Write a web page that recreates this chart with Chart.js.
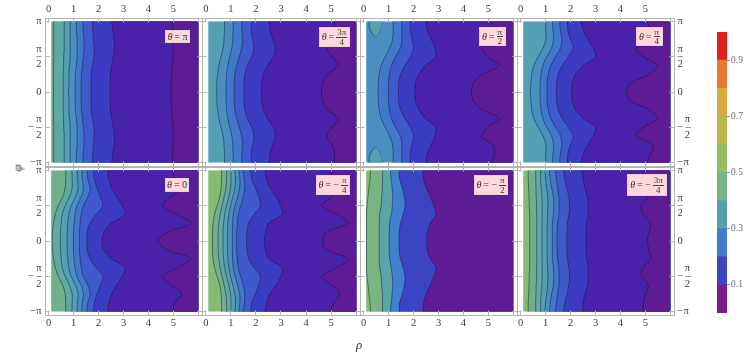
<!DOCTYPE html>
<html>
<head>
<meta charset="utf-8">
<script src="https://cdn.jsdelivr.net/npm/chart.js@4/dist/chart.umd.min.js"></script>
<style>
  html, body { margin: 0; padding: 0; background: #fff; }
  body { width: 747px; height: 355px; position: relative; overflow: hidden; font-family: "Liberation Serif", serif; }
  canvas { position: absolute; }
  .theta { position: absolute; background: #ffd9da; box-shadow: inset 0 0 0 1px #e6cfd8; display: flex; align-items: center; justify-content: center;
    font-size: 10px; color: #333; white-space: nowrap; line-height: 1; z-index: 5; }
  .theta i { margin-right: 2px; }
  .frac { display: inline-flex; flex-direction: column; align-items: center; margin-left: 2px; font-size: 9px; }
  .frac span { line-height: 8.5px; }
  .frac span:first-child { border-bottom: 1px solid #444; padding: 0 1px; }
  .axis-title { position: absolute; font-style: italic; font-size: 13px; color: #333; z-index: 5; }
</style>
</head>
<body>
<span class="axis-title" style="left:356px;top:337px">ρ</span>
<span class="axis-title" style="left:14px;top:160px;transform:rotate(-90deg)">φ</span>
<script>
// phi samples shared by every contour, top of the panel first
const phiGrid = [3.1416, 2.7489, 2.3562, 1.9635, 1.5708, 1.1781, 0.7854, 0.3927, 0, -0.3927, -0.7854, -1.1781, -1.5708, -1.9635, -2.3562, -2.7489, -3.1416];

// contour positions (rho at each phiGrid value), left to right in each panel
const contoursPi = [
  [.20,.20,.20,.20,.20,.19,.19,.19,.19,.19,.19,.19,.20,.20,.20,.20,.20],
  [.62,.62,.62,.62,.60,.59,.58,.58,.58,.58,.58,.59,.60,.62,.62,.62,.62],
  [.86,.86,.86,.86,.86,.83,.81,.81,.79,.81,.81,.83,.86,.86,.86,.86,.86],
  [1.10,1.11,1.14,1.14,1.14,1.11,1.07,1.06,1.06,1.06,1.07,1.11,1.14,1.14,1.14,1.11,1.10],
  [1.38,1.38,1.41,1.42,1.39,1.35,1.31,1.30,1.30,1.30,1.31,1.35,1.39,1.42,1.41,1.38,1.38],
  [1.74,1.77,1.79,1.82,1.81,1.75,1.71,1.70,1.70,1.70,1.71,1.75,1.81,1.82,1.79,1.77,1.74],
  [2.53,2.57,2.62,2.63,2.59,2.53,2.47,2.46,2.46,2.46,2.47,2.53,2.59,2.63,2.62,2.57,2.53],
  [4.97,4.97,4.98,5.00,4.98,4.96,4.93,4.92,4.92,4.92,4.93,4.96,4.98,5.00,4.98,4.97,4.97]
];
const contours3Pi4 = [
  [.75,.75,.73,.69,.61,.52,.47,.44,.44,.44,.47,.52,.61,.69,.73,.75,.75],
  [1.09,1.09,1.08,1.04,.96,.88,.83,.81,.81,.81,.83,.88,.96,1.04,1.08,1.09,1.09],
  [1.43,1.44,1.46,1.43,1.34,1.23,1.16,1.13,1.13,1.13,1.16,1.23,1.34,1.43,1.46,1.44,1.43],
  [1.82,1.82,1.87,1.92,1.83,1.66,1.56,1.52,1.52,1.52,1.56,1.66,1.83,1.92,1.87,1.82,1.82],
  [2.54,2.56,2.67,2.76,2.70,2.46,2.30,2.23,2.22,2.23,2.30,2.46,2.70,2.76,2.67,2.56,2.54],
  [5.13,5.13,5.03,4.83,5.03,5.27,4.86,4.65,4.62,4.65,4.86,5.27,5.03,4.83,5.03,5.13,5.13]
];
const contoursPi2 = [
  [1.18,1.18,1.16,1.04,.86,.70,.62,.58,.58,.58,.62,.70,.86,1.04,1.16,1.18,1.18],
  [1.52,1.53,1.53,1.47,1.28,1.11,1.03,.99,.99,.99,1.03,1.11,1.28,1.47,1.53,1.53,1.52],
  [1.85,1.88,1.93,2.00,1.87,1.66,1.48,1.40,1.39,1.40,1.48,1.66,1.87,2.00,1.93,1.88,1.85],
  [2.49,2.54,2.70,2.85,2.88,2.48,2.21,2.08,2.05,2.08,2.21,2.48,2.88,2.85,2.70,2.54,2.49],
  [5.13,5.25,5.19,4.73,4.97,5.43,4.77,4.39,4.33,4.39,4.77,5.43,4.97,4.73,5.19,5.25,5.13]
];
const contoursPi4 = [
  [1.00,1.00,1.01,.90,.70,.53,.44,.41,.39,.41,.44,.53,.70,.90,1.01,1.00,1.00],
  [1.28,1.29,1.32,1.24,1.04,.89,.81,.78,.77,.78,.81,.89,1.04,1.24,1.32,1.29,1.28],
  [1.56,1.59,1.65,1.60,1.40,1.21,1.10,1.06,1.06,1.06,1.10,1.21,1.40,1.60,1.65,1.59,1.56],
  [1.87,1.89,1.99,2.11,1.91,1.67,1.51,1.44,1.43,1.44,1.51,1.67,1.91,2.11,1.99,1.89,1.87],
  [2.43,2.50,2.68,2.90,3.00,2.50,2.20,2.07,2.04,2.07,2.20,2.50,3.00,2.90,2.68,2.50,2.43],
  [5.08,5.21,5.31,4.64,4.91,5.48,5.15,4.41,4.25,4.41,5.15,5.48,4.91,4.64,5.31,5.21,5.08]
];
const contoursZero = [
  [.68,.68,.66,.56,.38,.26,.19,.15,.14,.15,.19,.26,.38,.56,.66,.68,.68],
  [.93,.94,.94,.83,.66,.54,.50,.47,.47,.47,.50,.54,.66,.83,.94,.94,.93],
  [1.14,1.15,1.18,1.07,.90,.80,.76,.74,.74,.74,.76,.80,.90,1.07,1.18,1.15,1.14],
  [1.33,1.34,1.39,1.30,1.13,1.05,1.01,.99,.99,.99,1.01,1.05,1.13,1.30,1.39,1.34,1.33],
  [1.53,1.57,1.66,1.57,1.39,1.30,1.26,1.23,1.23,1.23,1.26,1.30,1.39,1.57,1.66,1.57,1.53],
  [1.79,1.83,1.94,2.07,2.17,1.90,1.66,1.54,1.53,1.54,1.66,1.90,2.17,2.07,1.94,1.83,1.79],
  [2.37,2.41,2.53,2.73,2.94,3.06,2.50,2.21,2.14,2.21,2.50,3.06,2.94,2.73,2.53,2.41,2.37],
  [4.98,5.06,5.34,4.90,4.57,5.17,5.70,4.77,4.38,4.77,5.70,5.17,4.57,4.90,5.34,5.06,4.98]
];
const contoursMinusPi4 = [
  [.63,.63,.61,.56,.45,.35,.29,.27,.27,.27,.29,.35,.45,.56,.61,.63,.63],
  [.83,.83,.80,.73,.65,.57,.52,.49,.49,.49,.52,.57,.65,.73,.80,.83,.83],
  [1.00,1.01,.99,.92,.83,.75,.71,.69,.69,.69,.71,.75,.83,.92,.99,1.01,1.00],
  [1.16,1.19,1.16,1.08,.99,.92,.88,.87,.87,.87,.88,.92,.99,1.08,1.16,1.19,1.16],
  [1.32,1.36,1.35,1.27,1.17,1.09,1.07,1.06,1.06,1.06,1.07,1.09,1.17,1.27,1.35,1.36,1.32],
  [1.48,1.54,1.56,1.50,1.39,1.30,1.26,1.23,1.23,1.23,1.26,1.30,1.39,1.50,1.56,1.54,1.48],
  [1.79,1.84,1.98,2.11,2.18,1.92,1.71,1.64,1.63,1.64,1.71,1.92,2.18,2.11,1.98,1.84,1.79],
  [2.36,2.42,2.56,2.80,2.99,3.03,2.50,2.38,2.34,2.38,2.50,3.03,2.99,2.80,2.56,2.42,2.36],
  [4.97,5.10,5.33,5.03,4.62,5.23,5.66,4.81,4.67,4.81,5.66,5.23,4.62,5.03,5.33,5.10,4.97]
];
const contoursMinusPi2 = [
  [.27,.25,.21,.17,.13,.11,.11,.11,.11,.11,.11,.11,.13,.17,.21,.25,.27],
  [.75,.75,.75,.72,.70,.64,.62,.62,.62,.62,.62,.64,.70,.72,.75,.75,.75],
  [1.07,1.10,1.14,1.16,1.15,1.10,1.04,1.02,1.02,1.02,1.04,1.10,1.15,1.16,1.14,1.10,1.07],
  [1.42,1.44,1.55,1.63,1.66,1.58,1.47,1.42,1.42,1.42,1.47,1.58,1.66,1.63,1.55,1.44,1.42],
  [2.37,2.40,2.51,2.67,2.81,2.90,2.67,2.55,2.53,2.55,2.67,2.90,2.81,2.67,2.51,2.40,2.37]
];
const contoursMinus3Pi4 = [
  [.30,.30,.32,.33,.34,.36,.36,.36,.36,.36,.36,.36,.34,.33,.32,.30,.30],
  [.60,.60,.61,.62,.64,.64,.64,.64,.64,.64,.64,.64,.64,.62,.61,.60,.60],
  [.80,.80,.82,.85,.86,.86,.85,.85,.85,.85,.85,.86,.86,.85,.82,.80,.80],
  [.97,1.00,1.04,1.08,1.09,1.08,1.06,1.06,1.06,1.06,1.06,1.08,1.09,1.08,1.04,1.00,.97],
  [1.16,1.18,1.24,1.31,1.32,1.31,1.27,1.27,1.27,1.27,1.27,1.31,1.32,1.31,1.24,1.18,1.16],
  [1.39,1.43,1.48,1.53,1.54,1.53,1.48,1.46,1.46,1.46,1.48,1.53,1.54,1.53,1.48,1.43,1.39],
  [1.72,1.77,1.85,1.93,1.96,1.93,1.87,1.85,1.85,1.85,1.87,1.93,1.96,1.93,1.85,1.77,1.72],
  [2.47,2.50,2.58,2.67,2.71,2.71,2.64,2.62,2.62,2.62,2.64,2.71,2.71,2.67,2.58,2.50,2.47],
  [4.91,4.92,5.01,5.12,4.85,4.91,5.21,5.15,5.08,5.15,5.21,4.91,4.85,5.12,5.01,4.92,4.91]
];

// the two small closed contours in the corners of the theta = pi/2 panel
const loopPhiTop = [3.1416, 2.95, 2.75, 2.57, 2.46];
const loopPhiBottom = [-2.46, -2.57, -2.75, -2.95, -3.1416];
const loopLeftTop = [.22,.22,.27,.36,.45];
const loopRightTop = [.73,.72,.66,.58,.47];
const loopLeftBottom = [.45,.36,.27,.22,.22];
const loopRightBottom = [.47,.58,.66,.72,.73];

// band colours, lowest band first
const bandColors = ['#5e1b96', '#4a21a9', '#3b3cc1', '#3f5bcb', '#4178c9', '#4b8fc0', '#559fb4', '#60a8a0', '#70b08c', '#85bb72'];
const minusPi2Colors = ['#5e1b96', '#3b45c4', '#4080d0', '#5aa5a8', '#79b583', '#85bb72'];

const panels = [
  { contours: contoursPi, colors: bandColors, box: [165, 30, 25, 13], label: '=&nbsp;π' },
  { contours: contours3Pi4, colors: bandColors, box: [319, 27, 31, 20], label: '=', num: '3π', den: '4' },
  { contours: contoursPi2, colors: bandColors, box: [479, 27, 27, 19], label: '=', num: 'π', den: '2' },
  { contours: contoursPi4, colors: bandColors, box: [636, 27, 27, 19], label: '=', num: 'π', den: '4' },
  { contours: contoursZero, colors: bandColors, box: [165, 178, 24, 14], label: '=&nbsp;0' },
  { contours: contoursMinusPi4, colors: bandColors, box: [316, 175, 34, 20], label: '=&nbsp;−', num: 'π', den: '4' },
  { contours: contoursMinusPi2, colors: minusPi2Colors, box: [474, 175, 34, 20], label: '=&nbsp;−', num: 'π', den: '2' },
  { contours: contoursMinus3Pi4, colors: bandColors, box: [627, 174, 40, 22], label: '=&nbsp;−', num: '3π', den: '4' }
];

const rhoTicks = [0, 1, 2, 3, 4, 5, 6];
const rhoTickLabels = ['0', '1', '2', '3', '4', '5', ''];
const phiTicks = [3.1416, 1.5708, 0, -1.5708, -3.1416];
const phiLeftLabels = ['π', ['π', '–', '2'], '0', ['π', '−\u2009–', '2'], '−π'];
const phiRightLabels = ['π', ['π', '–', '2'], '0', ['\u2002\u2009π', '−\u2009–', '\u2002\u20092'], '−π'];

const barSegment = [0.1];
const barColors = ['#7b1c88', '#3c46c3', '#437bcd', '#579fae', '#77b586', '#98bb63', '#bcb648', '#dca83b', '#e67a33', '#dd2223'];
const barTicks = [0.1, 0.3, 0.5, 0.7, 0.9];

const frameX = [45, 202, 360, 517, 674];
const frameY = [[18, 166], [167, 315]];
const gutter = 6;
const frameColor = '#b4b4b4';
const tickFont = { family: '"Liberation Serif", serif', size: 10.5, lineHeight: 0.74 };

// inward tick marks on every side, labels only on the outer sides
function frameAxis(position, size, min, max, ticks, labels, showLabels, pad) {
  return {
    type: 'linear',
    position: position,
    min: min,
    max: max,
    grid: { drawOnChartArea: false, tickLength: -4.5, color: frameColor, z: 1 },
    border: { color: frameColor, z: 1 },
    ticks: {
      display: showLabels,
      autoSkip: false,
      maxRotation: 0,
      minRotation: 0,
      padding: pad,
      color: '#3a3a3a',
      font: tickFont,
      callback: (value, i) => labels[i]
    },
    afterBuildTicks: scale => { scale.ticks = ticks.map(v => ({ value: v })); },
    afterFit: scale => {
      if (position === 'left' || position === 'right') scale.width = size;
      else scale.height = size;
      scale.paddingLeft = scale.paddingRight = scale.paddingTop = scale.paddingBottom = 0;
    }
  };
}

function contourDataset(xs, phis, fill, lineWidth, color) {
  return {
    data: xs.map((x, i) => ({ x: x, y: phis[i] })),
    xAxisID: 'x',
    yAxisID: 'y',
    backgroundColor: color,
    borderColor: 'rgba(20,20,60,0.62)',
    borderWidth: lineWidth,
    pointRadius: 0,
    tension: 0.35,
    fill: fill
  };
}

function buildDatasets(panel, index) {
  const curves = panel.contours;
  const sets = [];
  // the rightmost band is drawn last, so it goes first in the list
  for (let i = curves.length - 1; i >= 0; i--) {
    sets.push(contourDataset(curves[i], phiGrid, { value: 6 }, 0.8, panel.colors[curves.length - 1 - i]));
  }
  if (index === 2) {
    sets.push(contourDataset(loopLeftTop, loopPhiTop, '+1', 0.8, '#559fb4'));
    sets.push(contourDataset(loopRightTop, loopPhiTop, false, 0.8, '#559fb4'));
    sets.push(contourDataset(loopLeftBottom, loopPhiBottom, '+1', 0.8, '#559fb4'));
    sets.push(contourDataset(loopRightBottom, loopPhiBottom, false, 0.8, '#559fb4'));
  }
  sets.push(contourDataset(phiGrid.map(() => 0.1), phiGrid, { value: 6 }, 0, panel.colors[curves.length]));
  return sets;
}

function addCanvas(left, top, width, height) {
  const canvas = document.createElement('canvas');
  canvas.width = width;
  canvas.height = height;
  canvas.style.left = left + 'px';
  canvas.style.top = top + 'px';
  canvas.style.width = width + 'px';
  canvas.style.height = height + 'px';
  document.body.appendChild(canvas);
  return canvas;
}

function drawPanel(panel, index) {
  const col = index % 4;
  const row = index < 4 ? 0 : 1;
  const left = col === 0 ? 0 : frameX[col] - gutter;
  const right = col === 3 ? 705 : frameX[col + 1] + gutter;
  const top = row === 0 ? 0 : frameY[1][0] - gutter;
  const bottom = row === 1 ? 335 : frameY[0][1] + gutter;
  const canvas = addCanvas(left, top, right - left, bottom - top);

  new Chart(canvas, {
    type: 'line',
    data: { datasets: buildDatasets(panel, index) },
    options: {
      indexAxis: 'y',
      responsive: false,
      animation: false,
      events: [],
      layout: { padding: 0 },
      plugins: { legend: { display: false }, tooltip: { enabled: false } },
      scales: {
        x: frameAxis('bottom', bottom - frameY[row][1], -0.15, 6.15, rhoTicks, rhoTickLabels, row === 1, 9),
        xTop: frameAxis('top', frameY[row][0] - top, -0.15, 6.15, rhoTicks, rhoTickLabels, row === 0, 9),
        y: frameAxis('left', frameX[col] - left, -3.29, 3.29, phiTicks, phiLeftLabels, col === 0, 8),
        yRight: frameAxis('right', right - frameX[col + 1], -3.29, 3.29, phiTicks, phiRightLabels, col === 3, 8)
      }
    }
  });

  const box = document.createElement('div');
  box.className = 'theta';
  box.style.left = panel.box[0] + 'px';
  box.style.top = panel.box[1] + 'px';
  box.style.width = panel.box[2] + 'px';
  box.style.height = panel.box[3] + 'px';
  let html = '<i>θ</i>' + panel.label;
  if (panel.num) html += '<span class="frac"><span>' + panel.num + '</span><span>' + panel.den + '</span></span>';
  box.innerHTML = html;
  document.body.appendChild(box);
}

function drawColorBar() {
  const canvas = addCanvas(717, 32, 30, 281);
  new Chart(canvas, {
    type: 'bar',
    data: {
      labels: [''],
      datasets: barColors.map(c => ({ data: barSegment, backgroundColor: c, barPercentage: 1, categoryPercentage: 1, stack: 'bar' }))
    },
    options: {
      responsive: false,
      animation: false,
      events: [],
      layout: { padding: 0 },
      plugins: { legend: { display: false }, tooltip: { enabled: false } },
      scales: {
        x: {
          stacked: true,
          display: false,
          afterFit: scale => { scale.height = 0; scale.paddingLeft = scale.paddingRight = 0; }
        },
        y: {
          stacked: true,
          position: 'right',
          min: 0,
          max: 1,
          grid: { drawOnChartArea: false, tickLength: 3, color: '#999' },
          border: { display: false },
          ticks: {
            padding: 1,
            color: '#6e6e6e',
            font: { family: '"Liberation Serif", serif', size: 9.5 },
            callback: v => v.toFixed(1)
          },
          afterBuildTicks: scale => { scale.ticks = barTicks.map(v => ({ value: v })); },
          afterFit: scale => { scale.width = 20; scale.paddingTop = scale.paddingBottom = 0; }
        }
      }
    }
  });
}

panels.forEach(drawPanel);
drawColorBar();
</script>
</body>
</html>
